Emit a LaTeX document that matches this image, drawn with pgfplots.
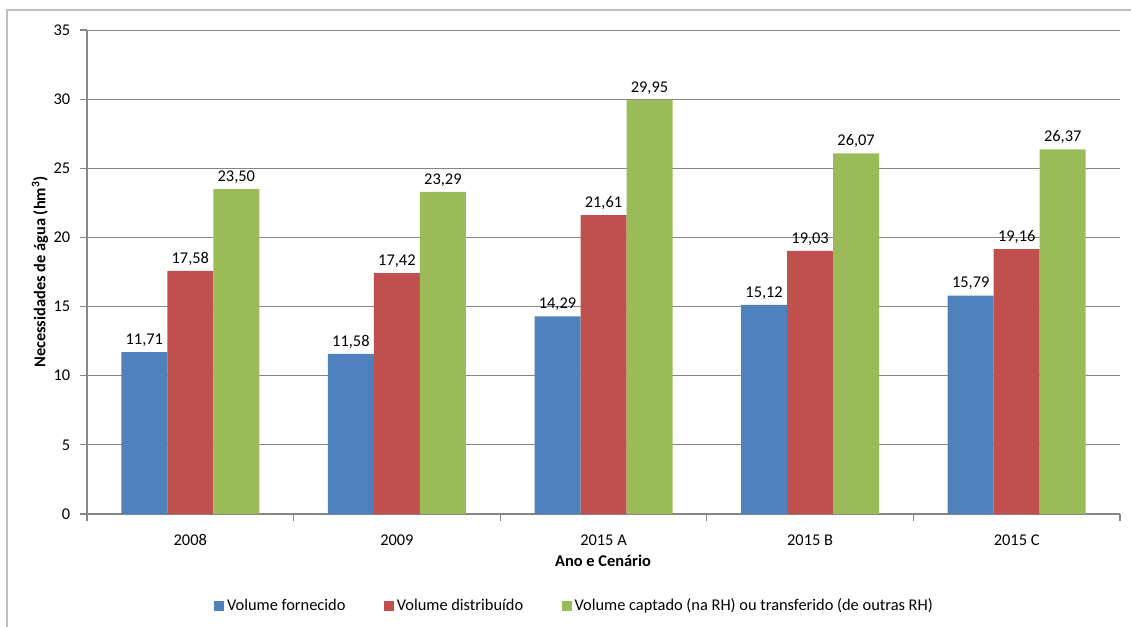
\documentclass[border=0pt]{standalone}
\usepackage{pgfplots}
\pgfplotsset{compat=1.18}
\usepackage{fontspec}
\setmainfont{Carlito}
\definecolor{cblue}{HTML}{4F81BD}
\definecolor{cred}{HTML}{C0504D}
\definecolor{cgreen}{HTML}{9BBB59}
\definecolor{axgray}{HTML}{868686}
\begin{document}
\fontsize{12.3pt}{14pt}\selectfont
\begin{tikzpicture}
\useasboundingbox (0pt,0pt) rectangle (848.25pt,-469.5pt);
\draw[color=gray!50, line width=0.8pt] (5.25pt,-480pt) -- (5.25pt,-7.5pt) -- (860pt,-7.5pt);
\begin{axis}[
  at={(65.25pt,-385.5pt)}, anchor=south west,
  scale only axis, width=774.75pt, height=363pt,
  ybar=0pt, bar width=34.5pt,
  xmin=-0.5, xmax=4.5, ymin=0, ymax=35,
  ytick={0,5,...,35},
  xtick={-0.5,0.5,1.5,2.5,3.5,4.5},
  xticklabels={2008,2009,2015 A,2015 B,2015 C},
  x tick label as interval,
  axis x line*=bottom, axis y line*=left,
  axis line style={color=axgray, line width=0.8pt},
  tick style={color=axgray, line width=0.8pt},
  tick align=outside, major tick length=5.25pt,
  ymajorgrids, grid style={color=axgray, line width=0.7pt},
  /pgf/number format/assume math mode=true,
  yticklabel style={xshift=-3pt},
  xticklabel style={yshift=-6pt},
  ylabel={\bfseries Necessidades de água (hm\textsuperscript{3})},
  ylabel style={at={(axis description cs:-0.0455,0.5)}, anchor=center},
  xlabel={\bfseries Ano e Cenário},
  xlabel style={at={(axis description cs:0.4995,-0.097)}, anchor=center},
  nodes near coords,
  nodes near coords style={font=\fontsize{12.3pt}{14pt}\selectfont, color=black, anchor=south, yshift=0pt,
    /pgf/number format/.cd, fixed, fixed zerofill, precision=2, use comma, assume math mode=true},
  legend columns=3,
  legend style={at={(axis description cs:0.4724,-0.19)}, anchor=center, draw=none,
    /tikz/every even column/.append style={column sep=27pt}},
  legend image code/.code={\fill[#1] (0pt,-3.7pt) rectangle (7.5pt,3.8pt);},
]
\addplot[fill=cblue, draw=none] coordinates {(0,11.71) (1,11.58) (2,14.29) (3,15.12) (4,15.79)};
\addplot[fill=cred, draw=none] coordinates {(0,17.58) (1,17.42) (2,21.61) (3,19.03) (4,19.16)};
\addplot[fill=cgreen, draw=none] coordinates {(0,23.50) (1,23.29) (2,29.95) (3,26.07) (4,26.37)};
\legend{Volume fornecido, Volume distribuído, Volume captado (na RH) ou transferido (de outras RH)}
\end{axis}
\end{tikzpicture}
\end{document}
